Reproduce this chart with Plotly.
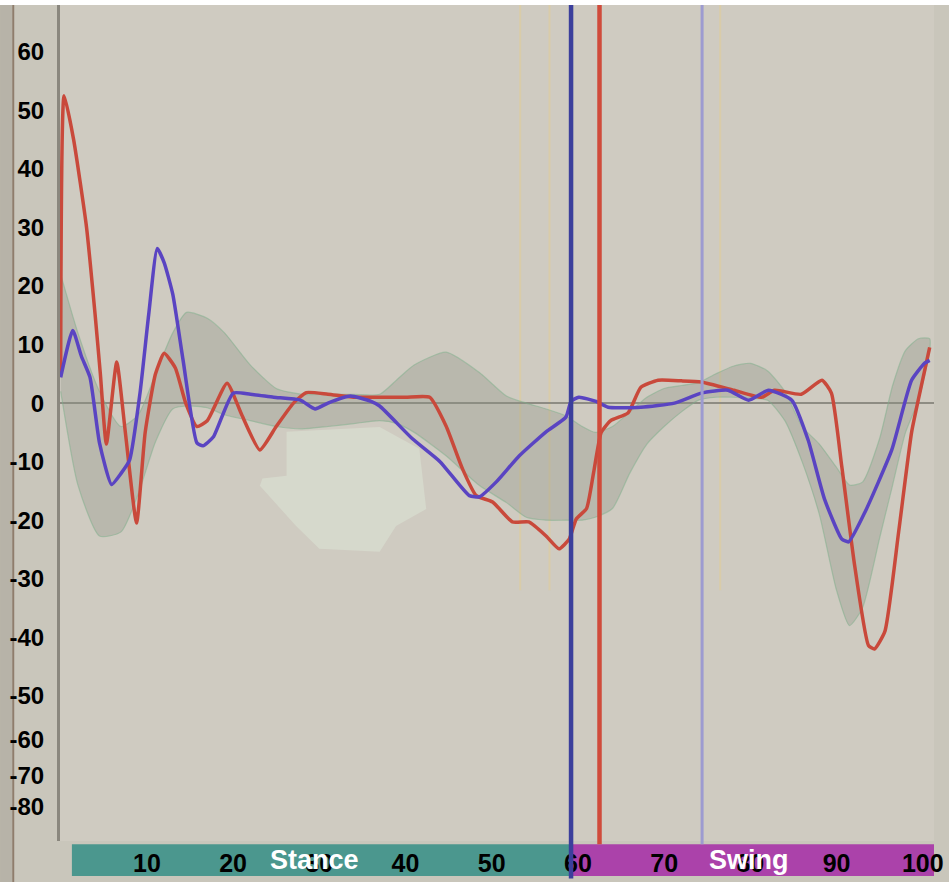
import plotly.graph_objects as go

# ---------------- data ----------------
x_ticks = [10, 20, 30, 40, 50, 60, 70, 80, 90, 100]
y_tick_vals = [60, 50, 40, 30, 20, 10, 0, -10, -20, -30, -40, -50, -57.4, -63.7, -68.9]
y_tick_text = ["60", "50", "40", "30", "20", "10", "0", "-10", "-20", "-30", "-40", "-50", "-60", "-70", "-80"]

red_x = [0, 0.4, 1.5, 3, 4, 4.6, 5.3, 6.5, 7.5, 8.8, 9.8, 11, 12, 13.3, 14.5, 15.8, 17, 19.3, 21, 23.1,
         25, 27, 28.5, 31, 34, 37, 40, 42.8, 44.7, 46.6, 48.2, 50.1, 52.4, 54.3, 56.3, 57.8, 59, 59.8,
         61, 61.8, 62.7, 63.8, 65.8, 67.3, 69.3, 72, 74.3, 78.1, 81.3, 82.8, 85.9, 88.3, 89.4, 90.6,
         92.1, 93.7, 94.4, 95.6, 97.2, 98.7, 99.9, 100.8]
red_y = [5, 52.5, 45, 30, 15, 5, -7, 7, -5, -20.5, -5, 5, 8.5, 6, 0, -4, -3, 3.4, -2, -8,
         -4, 0, 1.8, 1.5, 1, 1, 1, 1, -3.9, -11.2, -15.8, -16.9, -20.3, -20.3, -22.7, -24.9, -23.2, -19.8,
         -18, -12, -5, -3, -1.7, 2.7, 3.9, 3.8, 3.6, 2.2, 1, 2.2, 1.5, 3.9, 1.7, -10.8,
         -27.8, -41.4, -42, -39, -22, -5, 3.4, 9.5]

blue_x = [0, 1.4, 2.4, 3.4, 4.5, 5.9, 7, 8, 9.2, 10.2, 11.2, 12, 13, 14.2, 15.8, 16.5, 17.7, 20, 22,
          24.7, 27.8, 29.5, 31, 33.6, 36, 37, 40.8, 44, 47.4, 48.6, 50.5, 53.2, 56.3, 58.6, 59.2, 60.1,
          62.1, 63.5, 67.3, 71.2, 74.3, 77.4, 79.8, 82.1, 84.8, 86.7, 88.6, 90.6, 91.4, 93.3, 96.4,
          98.7, 100.2, 100.8]
blue_y = [4.4, 12.4, 8, 4.4, -6.8, -13.9, -12, -9.7, 1.7, 15, 26.4, 24, 18.6, 7.3, -6.8, -7.3, -5.8, 1.7, 1.5,
          1, 0.5, -1, 0, 1.2, 0.3, -0.5, -6.1, -10, -15.8, -16, -13.5, -9, -4.9, -2.4, 0.3, 1,
          0.3, -0.7, -0.7, 0, 1.7, 2.2, 0.5, 2.2, 0.5, -6.3, -16.4, -23.2, -23.7, -18.6, -8,
          3.9, 6.8, 7.3]

band_x = [0, 2, 4.5, 7, 9, 11, 13, 14.6, 17, 19, 22, 25, 28, 31, 34, 37, 39, 41, 44.7, 48.5, 51.7, 54,
          56.3, 58.6, 60.5, 62, 64, 66, 68, 70, 72, 74, 76, 78, 80, 82, 84, 86, 88, 90, 91.5, 93, 95,
          96.5, 98, 99.5, 100.8]
band_upper = [22, 12, 2, -4, -2, 5, 12, 15.5, 14.5, 12, 6.5, 2.5, 1.5, 1.5, 1.5, 1.5, 4, 6.5, 8.7, 5.3, 1.2, 0,
              -1, -2.2, -4, -5, -4, -1.5, 1, 2.5, 3, 3.5, 5, 6.3, 6.8, 5.5, 2, -4, -7, -11, -14, -13.5, -6,
              3, 9, 11, 11]
band_lower = [2, -14, -22.7, -22, -15.5, -6.6, -1, -0.5, -0.8, -2, -3, -4, -4.4, -4, -3.5, -3, -3.5, -5, -9, -14, -17, -19.5,
              -20, -20, -20, -19.5, -18, -12, -7, -4, -1.5, 0.5, 1, 1, 0.8, 0.5, -3, -10, -19, -32, -38, -35, -23,
              -14, -5, 0.5, 9]

event_x = [59.2, 62.5, 74.4]
event_colors = ["#3b3f9c", "#d04b3b", "#9d9bd0"]
faint_x = [53.3, 56.7, 76.5]

phase_names = ["Stance", "Swing"]
phase_start = [1.3, 59.3]
phase_end = [59.3, 101.3]
phase_colors = ["#4b978e", "#ab42aa"]
phase_label_x = [29.4, 79.8]

X_RANGE = [-0.08, 101.3]
Y_RANGE = [-74.8, 68.0]


def xpaper(v):
    return (v - X_RANGE[0]) / (X_RANGE[1] - X_RANGE[0])


fig = go.Figure()

# normal band (mean +/- SD)
fig.add_trace(go.Scatter(
    x=band_x + band_x[::-1], y=band_upper + band_lower[::-1],
    fill="toself", fillcolor="rgba(140,145,132,0.32)",
    line=dict(color="rgba(125,175,140,0.5)", width=1.2, shape="spline", smoothing=0.6),
    mode="lines", hoverinfo="skip", showlegend=False))

fig.add_trace(go.Scatter(x=red_x, y=red_y, mode="lines",
                         line=dict(color="#c9493b", width=3.5, shape="spline", smoothing=0.5),
                         showlegend=False))
fig.add_trace(go.Scatter(x=blue_x, y=blue_y, mode="lines",
                         line=dict(color="#5a44c2", width=3.5, shape="spline", smoothing=0.5),
                         showlegend=False))

shapes = []
# top white strip
shapes.append(dict(type="rect", xref="paper", yref="paper", x0=-0.1, x1=1.1, y0=1.0, y1=1.01,
                   fillcolor="white", line=dict(width=0), layer="above"))
# left dark frame strip
shapes.append(dict(type="rect", xref="paper", yref="paper", x0=-0.0686, x1=-0.0549, y0=-0.05, y1=1.0,
                   fillcolor="#b7b3a8", line=dict(width=0), layer="below"))
shapes.append(dict(type="line", xref="paper", yref="paper", x0=-0.0535, x1=-0.0535, y0=-0.05, y1=1.0,
                   line=dict(color="#8f7d6c", width=2), layer="below"))
# censored patch
shapes.append(dict(type="path", xref="x", yref="y", layer="above",
                   path="M 26.2 -4.9 L 37.0 -4.1 L 41.6 -7.8 L 42.4 -18.1 L 38.9 -21.0 L 37.0 -25.4 "
                        "L 30.0 -24.9 L 27.3 -21.0 L 23.1 -14.1 L 23.4 -12.9 L 26.2 -12.4 Z",
                   fillcolor="#d6d9cc", line=dict(width=0)))
# phase bar
for s, e, c in zip(phase_start, phase_end, phase_colors):
    shapes.append(dict(type="rect", xref="paper", yref="paper", x0=xpaper(s), x1=xpaper(e),
                       y0=-0.0418, y1=-0.004, fillcolor=c, line=dict(width=0), layer="below"))
# faint vertical lines
for fx in faint_x:
    shapes.append(dict(type="line", xref="paper", yref="paper", x0=xpaper(fx), x1=xpaper(fx),
                       y0=0.3, y1=1.0, line=dict(color="rgba(225,205,150,0.55)", width=2), layer="below"))
# event lines
for i, (ex, ec) in enumerate(zip(event_x, event_colors)):
    y0 = -0.045 if i == 0 else -0.004
    w = 4.5 if i < 2 else 3
    shapes.append(dict(type="line", xref="paper", yref="paper", x0=xpaper(ex), x1=xpaper(ex),
                       y0=y0, y1=1.0, line=dict(color=ec, width=w), layer="above"))

annotations = []
for name, lx in zip(phase_names, phase_label_x):
    annotations.append(dict(x=lx, y=-0.0225, xref="x", yref="paper", text=name, showarrow=False,
                            font=dict(family="Liberation Sans, Arial, sans-serif", size=27,
                                      color="white", weight="bold"),
                            xanchor="center", yanchor="middle"))

fig.update_layout(
    width=949, height=882,
    margin=dict(l=60, r=14, t=5, b=39),
    paper_bgcolor="#c9c6bb",
    plot_bgcolor="#cfcbc1",
    shapes=shapes,
    annotations=annotations,
    showlegend=False,
    xaxis=dict(range=X_RANGE, tickvals=x_ticks, ticktext=[str(v) for v in x_ticks],
               showgrid=False, zeroline=False, showline=False, ticks="",
               ticklabelstandoff=5,
               tickfont=dict(family="Liberation Sans, Arial, sans-serif", size=25,
                             color="black", weight="bold")),
    yaxis=dict(range=Y_RANGE, tickvals=y_tick_vals, ticktext=y_tick_text,
               showgrid=False, zeroline=True, zerolinecolor="#8e8c83", zerolinewidth=2,
               showline=True, linecolor="#8a877e", linewidth=3, ticks="",
               ticklabelstandoff=8,
               tickfont=dict(family="Liberation Sans, Arial, sans-serif", size=24,
                             color="black", weight="bold")),
)

fig.write_html("out.html", config={"displayModeBar": False})
